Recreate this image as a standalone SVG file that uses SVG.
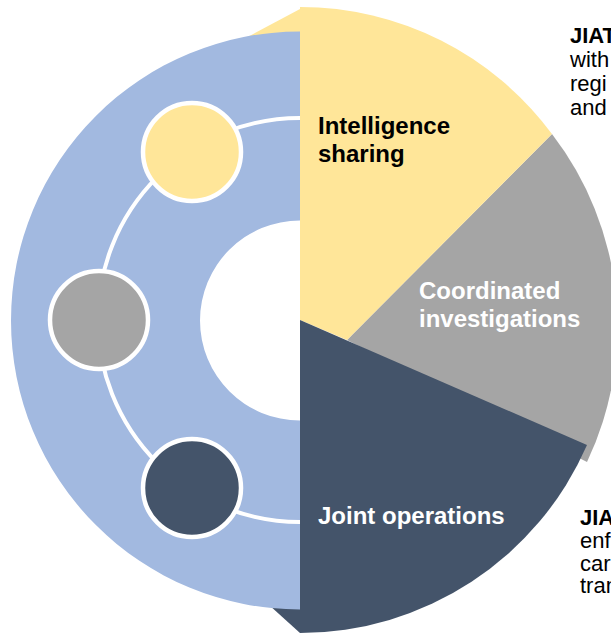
<svg xmlns="http://www.w3.org/2000/svg" width="611" height="637" viewBox="0 0 611 637">
  <style>
    .lbl { font-family: "Liberation Sans", Arial, sans-serif; font-weight: bold; font-size: 24px; }
    .side { font-family: "Liberation Sans", Arial, sans-serif; font-size: 22px; fill: #000000; }
    .dot { stroke: #FFFFFF; stroke-width: 4.5; }
  </style>
  <rect width="611" height="637" fill="#FFFFFF"/>
  <g id="pie">
    <g id="slice-coordinated">
      <path d="M347,340 L552,134 A316,316 0 0,1 587,462 Z" fill="#A5A5A5"/>
    </g>
    <g id="slice-intelligence">
      <polygon points="240,41 300,9 300,90" fill="#FFE699"/>
      <path d="M300,320 L347,340 L552,134 A313,313 0 0,0 300,7 Z" fill="#FFE699"/>
    </g>
    <g id="slice-joint">
      <polygon points="258,595 300,633 300,560" fill="#44546A"/>
      <path d="M300,320 L587,445 A313,313 0 0,1 300,633 Z" fill="#44546A"/>
    </g>
  </g>
  <g id="ring">
    <path d="M300,31.5 A289,289 0 0,0 300,609.5 L300,420.5 A100,100 0 0,1 300,220.5 Z" fill="#A2B9E0"/>
  </g>
  <g id="connectors">
    <path d="M300,118 A202,202 0 0,0 300,522" fill="none" stroke="#FFFFFF" stroke-width="4"/>
  </g>
  <g id="node-yellow">
    <circle class="dot" cx="192" cy="152" r="49" fill="#FFE699"/>
  </g>
  <g id="node-gray">
    <circle class="dot" cx="99" cy="320" r="49" fill="#A5A5A5"/>
  </g>
  <g id="node-dark">
    <circle class="dot" cx="192" cy="488" r="49" fill="#44546A"/>
  </g>
  <g id="labels">
    <text class="lbl" fill="#000000"><tspan x="318" y="133.5">Intelligence</tspan><tspan x="318" y="162">sharing</tspan></text>
    <text class="lbl" fill="#FFFFFF"><tspan x="419" y="299">Coordinated</tspan><tspan x="419" y="327">investigations</tspan></text>
    <text class="lbl" fill="#FFFFFF" x="318" y="524">Joint operations</text>
  </g>
  <g id="side-text-top">
    <text class="side"><tspan x="570" y="43" font-weight="bold">JIAT</tspan><tspan x="570" y="67">with</tspan><tspan x="570" y="91">regi</tspan><tspan x="570" y="115">and</tspan></text>
  </g>
  <g id="side-text-bottom">
    <text class="side"><tspan x="580" y="524.5" font-weight="bold">JIA</tspan><tspan x="580" y="547.5">enf</tspan><tspan x="580" y="570.5">car</tspan><tspan x="580" y="593">tran</tspan></text>
  </g>
</svg>
